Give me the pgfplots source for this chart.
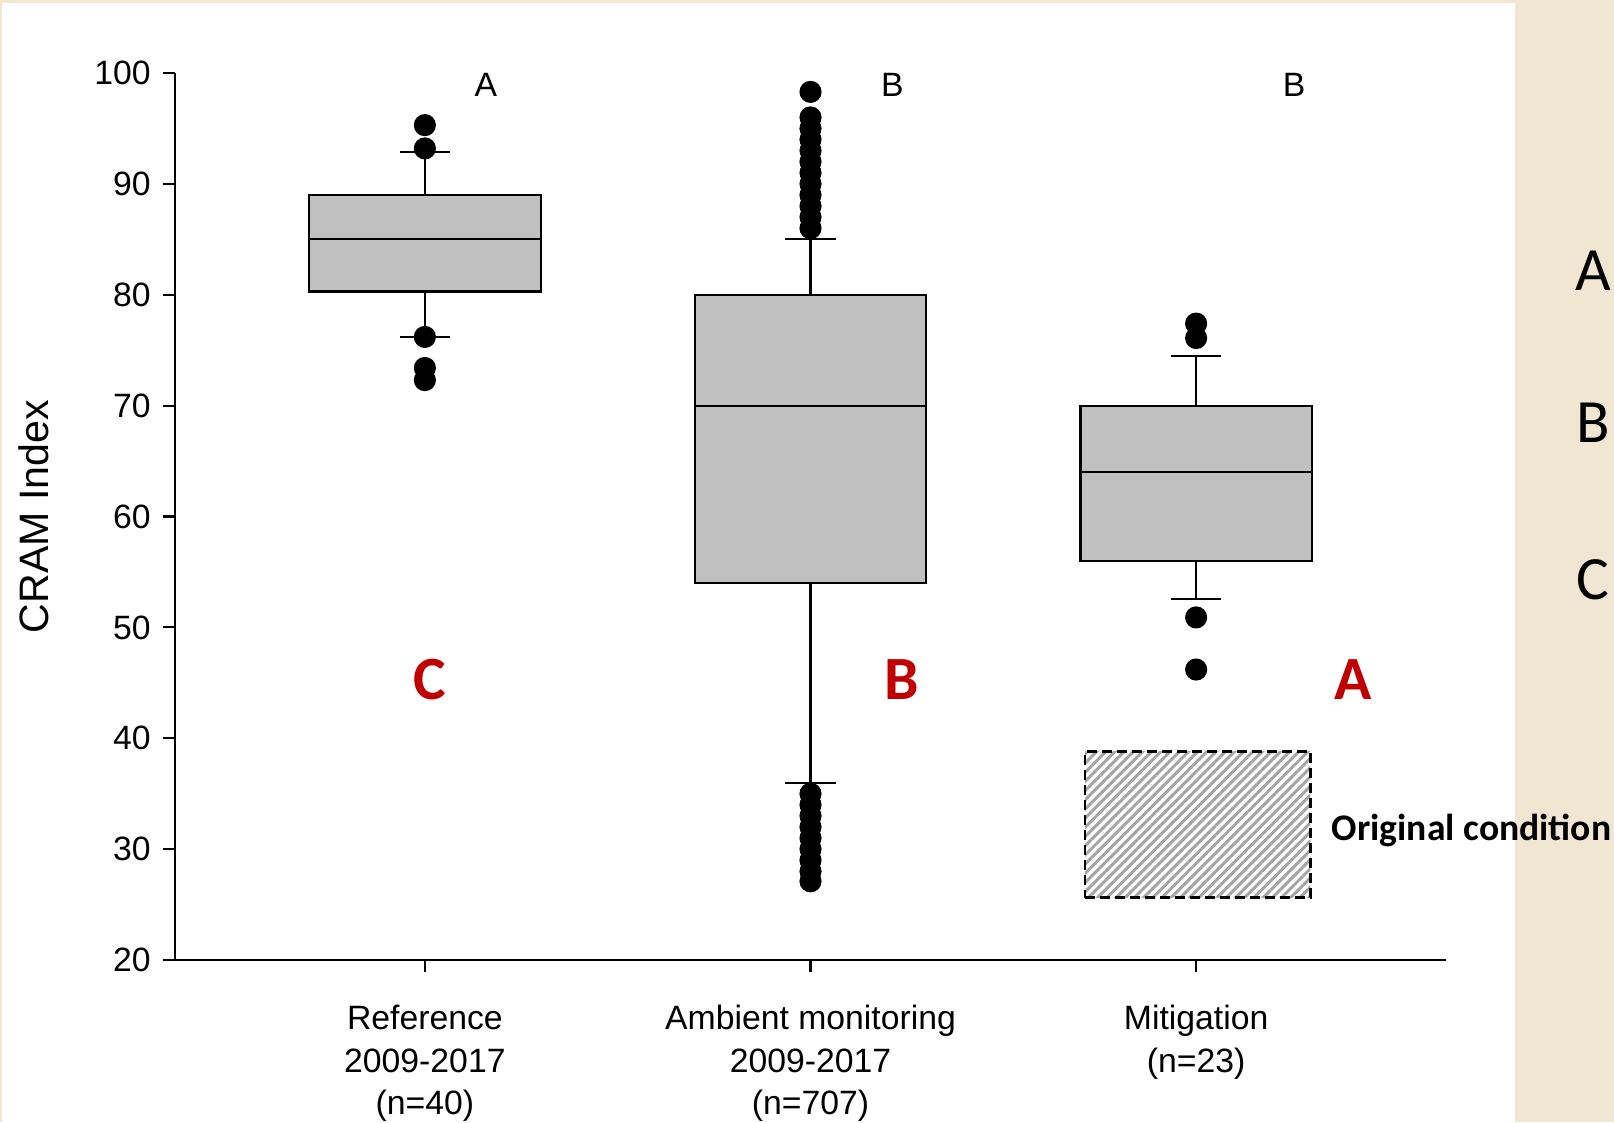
\documentclass[border=0pt]{standalone}
\usepackage{pgfplots}
\pgfplotsset{compat=1.18}
\usepgfplotslibrary{statistics}
\usetikzlibrary{patterns.meta}
\usepackage{fontspec}
\setmainfont{Liberation Sans}
\newfontfamily\carlito{Carlito}
\definecolor{parchment}{HTML}{F1E6D2}
\definecolor{boxgray}{HTML}{C0C0C0}
\definecolor{hatchgray}{HTML}{A4A4A4}
\definecolor{letterred}{HTML}{C00000}
\begin{document}
\begin{tikzpicture}
\useasboundingbox (-17.5mm,-16.2mm) rectangle (143.9mm,96.0mm);
\fill[parchment] (-17.5mm,-16.2mm) rectangle (143.9mm,96.0mm);
\fill[white] (-17.3mm,-16.2mm) rectangle (134.0mm,95.7mm);
\begin{axis}[
  at={(0,0)}, anchor=south west, scale only axis,
  width=127.1mm, height=88.7mm,
  xmin=-0.648, xmax=2.648, ymin=20, ymax=100,
  axis lines=left,
  axis line style={line width=0.6pt, -},
  tick align=outside,
  major tick length=1.2mm,
  tick style={line width=0.6pt, black},
  xtick={0,1,2},
  xticklabels={{Reference\\2009-2017\\(n=40)},{Ambient monitoring\\2009-2017\\(n=707)},{Mitigation\\(n=23)}},
  x tick label style={align=center, yshift=-2.1mm, font=\fontsize{9.6pt}{12pt}\selectfont},
  ytick={20,30,...,100},
  y tick label style={font=\fontsize{9.6pt}{12pt}\selectfont},
  /pgf/number format/assume math mode=true,
  ylabel={CRAM Index},
  every axis y label/.style={at={(axis description cs:-0.111,0.5)}, rotate=90, anchor=center, font=\fontsize{11.7pt}{14pt}\selectfont},
  clip=false,
  boxplot/draw direction=y,
]
% Reference sites
\addplot[boxplot prepared={lower whisker=76.2, lower quartile=80.3, median=85, upper quartile=89, upper whisker=92.9, draw position=0, box extend=0.6, whisker extend=0.13},
  draw=black, line width=0.6pt, fill=boxgray, mark=*, mark size=1.0mm, mark options={fill=black, draw=black, solid}]
  coordinates {(0,95.3) (0,93.2) (0,76.2) (0,73.4) (0,72.3)};
% Ambient monitoring
\addplot[boxplot prepared={lower whisker=36, lower quartile=54, median=70, upper quartile=80, upper whisker=85, draw position=1, box extend=0.6, whisker extend=0.13},
  draw=black, line width=0.6pt, fill=boxgray, mark=*, mark size=1.0mm, mark options={fill=black, draw=black, solid}]
  coordinates {(1,98.3) (1,96) (1,95) (1,94) (1,93) (1,92) (1,91) (1,90) (1,89) (1,88) (1,87) (1,86)
               (1,35) (1,34) (1,33) (1,32) (1,31) (1,30) (1,29) (1,28) (1,27.1)};
% Mitigation sites
\addplot[boxplot prepared={lower whisker=52.6, lower quartile=56, median=64, upper quartile=70, upper whisker=74.5, draw position=2, box extend=0.6, whisker extend=0.13},
  draw=black, line width=0.6pt, fill=boxgray, mark=*, mark size=1.0mm, mark options={fill=black, draw=black, solid}]
  coordinates {(2,77.4) (2,76.1) (2,50.9) (2,46.2)};
% Original condition range
\addplot[mark=none, draw=black, line width=0.75pt, dash pattern=on 1mm off 0.5mm,
  pattern={Lines[angle=45, distance=0.65mm, line width=0.3mm]}, pattern color=hatchgray]
  coordinates {(1.712,25.63) (2.296,25.63) (2.296,38.8) (1.712,38.8)} -- cycle;

% group letters
\node[font=\fontsize{9.6pt}{12pt}\selectfont] at (axis cs:0.158,98.9) {A};
\node[font=\fontsize{9.6pt}{12pt}\selectfont] at (axis cs:1.212,98.9) {B};
\node[font=\fontsize{9.6pt}{12pt}\selectfont] at (axis cs:2.254,98.9) {B};
\node[text=letterred, font=\carlito\bfseries\fontsize{17.5pt}{20pt}\selectfont] at (axis cs:0.013,45.3) {C};
\node[text=letterred, font=\carlito\bfseries\fontsize{17.5pt}{20pt}\selectfont] at (axis cs:1.236,45.3) {B};
\node[text=letterred, font=\carlito\bfseries\fontsize{17.5pt}{20pt}\selectfont] at (axis cs:2.407,45.3) {A};
\node[anchor=west, inner sep=0pt, font=\carlito\bfseries\fontsize{10.7pt}{12pt}\selectfont] at (axis cs:2.35,31.7) {Original condition};
\node[font=\carlito\fontsize{17.5pt}{20pt}\selectfont] at (axis cs:3.03,82.2) {A};
\node[font=\carlito\fontsize{17.5pt}{20pt}\selectfont] at (axis cs:3.03,68.5) {B};
\node[font=\carlito\fontsize{17.5pt}{20pt}\selectfont] at (axis cs:3.03,54.3) {C};
\end{axis}
\end{tikzpicture}
\end{document}
